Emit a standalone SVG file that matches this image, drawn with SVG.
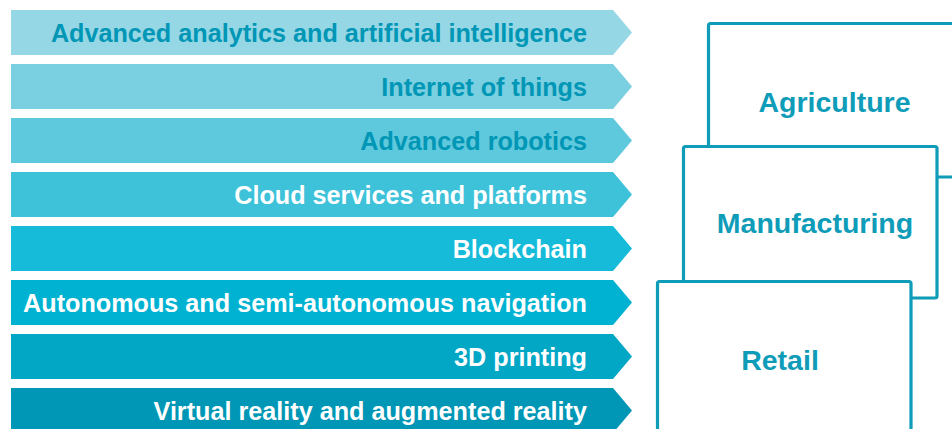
<svg xmlns="http://www.w3.org/2000/svg" width="952" height="429" viewBox="0 0 952 429">
<style>
.t{font-family:"Liberation Sans",Arial,sans-serif;font-weight:bold;font-size:25.2px;text-anchor:end}
.dk{fill:#0096b6}
.wh{fill:#ffffff}
.box{fill:#ffffff;stroke:#0e9cb9;stroke-width:3.2;stroke-linejoin:round}
.bt{font-family:"Liberation Sans",Arial,sans-serif;font-weight:bold;font-size:28.5px;text-anchor:middle;fill:#0e9cb9}
</style>
<defs>
<path id="arr" d="M0,0 H602 L621,22.5 L602,45 H0 Z"/>
</defs>
<g id="techs">
<g id="t1"><use href="#arr" x="11" y="10" fill="#95d7e5"/><text class="t dk" x="587" y="42">Advanced analytics and artificial intelligence</text></g>
<g id="t2"><use href="#arr" x="11" y="64" fill="#7acfe0"/><text class="t dk" x="587" y="96">Internet of things</text></g>
<g id="t3"><use href="#arr" x="11" y="118" fill="#5ec9dd"/><text class="t dk" x="587" y="150">Advanced robotics</text></g>
<g id="t4"><use href="#arr" x="11" y="172" fill="#3dc2da"/><text class="t wh" x="587" y="204">Cloud services and platforms</text></g>
<g id="t5"><use href="#arr" x="11" y="226" fill="#15bbd8"/><text class="t wh" x="587" y="258">Blockchain</text></g>
<g id="t6"><use href="#arr" x="11" y="280" fill="#00b2d2"/><text class="t wh" x="587" y="312">Autonomous and semi-autonomous navigation</text></g>
<g id="t7"><use href="#arr" x="11" y="334" fill="#03a7c6"/><text class="t wh" x="587" y="366">3D printing</text></g>
<g id="t8"><use href="#arr" x="11" y="388" fill="#0096b5"/><text class="t wh" x="587" y="420">Virtual reality and augmented reality</text></g>
</g>
<g id="connectors"/>
<g id="agriculture"><rect class="box" x="708.5" y="23.5" width="260" height="153.5" rx="2"/><text class="bt" x="834.5" y="112">Agriculture</text></g>
<g id="manufacturing"><rect class="box" x="683.5" y="146.5" width="253.5" height="151.5" rx="2"/><text class="bt" x="815" y="233">Manufacturing</text></g>
<g id="retail"><rect class="box" x="657.5" y="281.5" width="253.5" height="170" rx="2"/><text class="bt" x="780" y="370">Retail</text></g>
</svg>
